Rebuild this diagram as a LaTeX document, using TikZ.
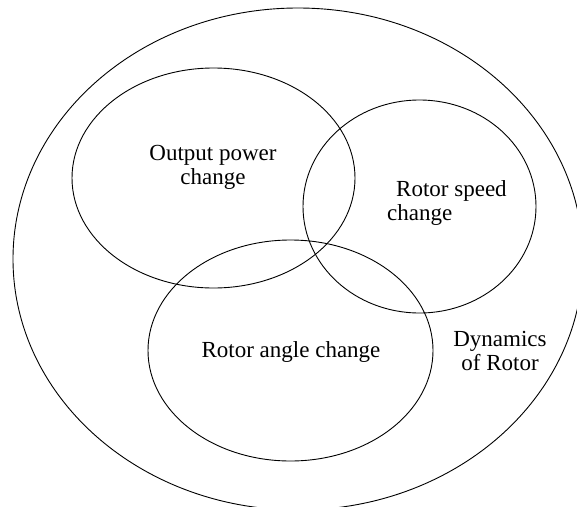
\documentclass[tikz,border=0pt]{standalone}
\usepackage{fontspec}
\setmainfont{Liberation Serif}
\usetikzlibrary{shapes.geometric, positioning}

\begin{document}
\begin{tikzpicture}[
    x=1pt, y=-1pt,
    set/.style={ellipse, draw, line width=0.9pt, inner sep=0pt, outer sep=0pt},
    settext/.style={font=\fontsize{23}{24}\selectfont, align=center, inner sep=0pt}
]
    \useasboundingbox (0,0) rectangle (577,506);

    % Outer set
    \node[set, minimum width=570pt, minimum height=502pt] (rotor) at (298,259) {};

    % Inner sets
    \node[set, minimum width=283pt, minimum height=220pt] (power) at (213.5,178) {};
    \node[set, minimum width=233pt, minimum height=213pt] (speed) at (419.5,206.5) {};
    \node[set, minimum width=285pt, minimum height=221pt] (angle) at (290.5,350.5) {};

    % Labels
    \node[settext] (powertext) at (213,167) {Output power\\change};
    \node[settext, align=left, anchor=west] (speedtext) at (387,203) {\hspace*{9pt}Rotor speed\\change};
    \node[settext] (angletext) at (291,352) {Rotor angle change};
    \node[settext] (rotortext) at (500,351) {Dynamics\\of Rotor};

\end{tikzpicture}
\end{document}
